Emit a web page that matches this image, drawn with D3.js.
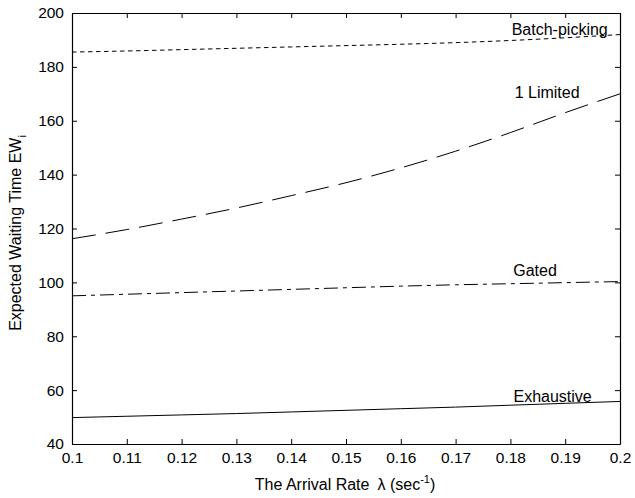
<!DOCTYPE html>
<html>
<head>
<meta charset="utf-8">
<script src="https://cdn.jsdelivr.net/npm/d3@7"></script>
<style>
  html, body { margin: 0; padding: 0; background: #fff; }
  svg { display: block; font-family: "Liberation Sans", Arial, Helvetica, sans-serif; }
</style>
</head>
<body>
<svg id="chart" width="635" height="498"></svg>
<script>
// Arrival rate samples (sec^-1)
const lambdas = [0.10, 0.11, 0.12, 0.13, 0.14, 0.15, 0.16, 0.17, 0.18, 0.19, 0.20];

// Expected waiting time per service policy
const batchPicking = [185.5, 185.9, 186.4, 186.9, 187.4, 187.9, 188.4, 189.0, 189.8, 190.8, 192.0];
const oneLimited   = [116.2, 119.6, 123.5, 127.6, 132.2, 137.0, 142.5, 148.7, 155.6, 163.0, 170.0];
const gated        = [95.0, 95.6, 96.2, 96.8, 97.4, 98.0, 98.6, 99.1, 99.5, 99.9, 100.3];
const exhaustive   = [49.8, 50.3, 50.8, 51.3, 51.9, 52.5, 53.1, 53.7, 54.4, 55.1, 55.8];

const xTicks = [0.1, 0.11, 0.12, 0.13, 0.14, 0.15, 0.16, 0.17, 0.18, 0.19, 0.2];
const yTicks = [40, 60, 80, 100, 120, 140, 160, 180, 200];

const seriesNames = ["Batch-picking", "1 Limited", "Gated", "Exhaustive"];
const seriesValues = [batchPicking, oneLimited, gated, exhaustive];
const seriesDash = ["4.5,3.5", "24,10", "14,5,4,5", null];
const labelAt = [0.1890, 0.1867, 0.1845, 0.1877];    // x anchor (centre) of each curve label
const labelValue = [191.8, 168.4, 102.4, 55.6];      // baseline of each curve label

const margin = { top: 13, right: 15, bottom: 54, left: 72 };
const W = 635, H = 498;
const iw = W - margin.left - margin.right;
const ih = H - margin.top - margin.bottom;

const svg = d3.select("#chart");
const g = svg.append("g").attr("transform", `translate(${margin.left},${margin.top})`);

const x = d3.scaleLinear().domain([0.1, 0.2]).range([0, iw]);
const y = d3.scaleLinear().domain([40, 200]).range([ih, 0]);

const fmtX = d => (d === 0.1 ? "0.1" : d === 0.2 ? "0.2" : d3.format(".2f")(d));
const tickLen = 5;
const tickFont = "15.5px";
const labelFont = "16px";

// Axes with inward ticks on all four sides
const axBottom = g.append("g").attr("transform", `translate(0,${ih})`)
  .call(d3.axisBottom(x).tickValues(xTicks).tickFormat(fmtX).tickSizeInner(-tickLen).tickSizeOuter(0).tickPadding(tickLen + 3));
const axTop = g.append("g")
  .call(d3.axisTop(x).tickValues(xTicks).tickFormat("").tickSizeInner(-tickLen).tickSizeOuter(0));
const axLeft = g.append("g")
  .call(d3.axisLeft(y).tickValues(yTicks).tickFormat(d3.format("d")).tickSizeInner(-tickLen).tickSizeOuter(0).tickPadding(tickLen + 3));
const axRight = g.append("g").attr("transform", `translate(${iw},0)`)
  .call(d3.axisRight(y).tickValues(yTicks).tickFormat("").tickSizeInner(-tickLen).tickSizeOuter(0));

[axBottom, axTop, axLeft, axRight].forEach(a => {
  a.select(".domain").attr("stroke", "#000").attr("stroke-width", 1.2);
  a.selectAll(".tick line").attr("stroke", "#000").attr("stroke-width", 1);
  a.selectAll("text").attr("fill", "#000").style("font-size", tickFont)
    .style("font-family", "'Liberation Sans', Arial, sans-serif");
});

// Curves
const line = d3.line().x((d, i) => x(lambdas[i])).y(d => y(d)).curve(d3.curveMonotoneX);
seriesValues.forEach((vals, k) => {
  g.append("path")
    .datum(vals)
    .attr("fill", "none")
    .attr("stroke", "#000")
    .attr("stroke-width", 1)
    .attr("stroke-dasharray", seriesDash[k])
    .attr("d", line);
  g.append("text")
    .attr("x", x(labelAt[k]))
    .attr("y", y(labelValue[k]))
    .attr("text-anchor", "middle")
    .style("font-size", labelFont)
    .attr("fill", "#000")
    .text(seriesNames[k]);
});

// Axis titles
const xt = svg.append("text")
  .attr("x", 345)
  .attr("y", H - 8)
  .attr("text-anchor", "middle")
  .style("font-size", labelFont)
  .attr("fill", "#000");
xt.append("tspan").text("The Arrival Rate");
xt.append("tspan").attr("dx", 8).text("\u03bb (sec");
xt.append("tspan").attr("dy", -7).style("font-size", "11px").text("-1");
xt.append("tspan").attr("dy", 7).text(")");

const yt = svg.append("text")
  .attr("transform", `translate(21,${margin.top + 220}) rotate(-90)`)
  .attr("text-anchor", "middle")
  .style("font-size", labelFont)
  .attr("fill", "#000");
yt.append("tspan").text("Expected Waiting Time EW");
yt.append("tspan").attr("dy", 5).style("font-size", "11px").text("i");
</script>
</body>
</html>
